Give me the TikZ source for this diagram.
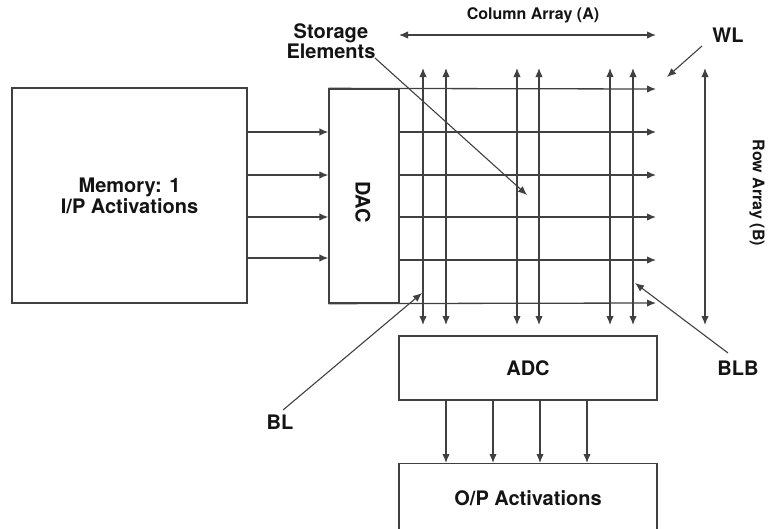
\documentclass[tikz,border=0pt]{standalone}
\usepackage{fontspec}
\setmainfont{TeX Gyre Heros}
\usetikzlibrary{arrows.meta}
\begin{document}
\begin{tikzpicture}[x=1pt,y=-1pt,line width=1.3pt,color=black!75,
  arr/.style={-{Latex[length=9pt,width=7.5pt]}},
  darr/.style={{Latex[length=9pt,width=7.5pt]}-{Latex[length=9pt,width=7.5pt]}},
  big/.style={font=\fontsize{20}{22}\selectfont\bfseries,text=black!92,inner sep=0pt},
  small/.style={font=\fontsize{16}{18}\selectfont\bfseries,text=black!92,inner sep=0pt},
  box/.style={draw,inner sep=0pt}]
\useasboundingbox (0,0) rectangle (768,528);
\clip (0,0) rectangle (768,528);
% boxes
\node[box,minimum width=235,minimum height=215,big,align=center] (mem) at (129.5,195.5) {Memory: 1\\[-1pt]I/P Activations};
\node[box,minimum width=70,minimum height=214] (dac) at (364,196) {};
\node[big,rotate=-90] (daclbl) at (363,202) {DAC};
\node[box,minimum width=258,minimum height=64,big] (adc) at (528,368) {ADC};
\node[box,minimum width=258,minimum height=140,anchor=north] (op) at (528,463) {};
\node[big] (oplbl) at (528,498) {O/P Activations};
% row (word line) coordinates
\coordinate (r1) at (0,89);
\coordinate (r2) at (0,132);
\coordinate (r3) at (0,175);
\coordinate (r4) at (0,217);
\coordinate (r5) at (0,260);
\coordinate (r6) at (0,303);
\coordinate (wlend) at (656,0);
% word lines
\draw[arr] (dac.north west) -- (wlend |- r1);
\foreach \r in {r2,r3,r4,r5}{
  \draw[arr] (dac.east |- \r) -- (wlend |- \r);
}
\draw[arr] (dac.south west) -- (wlend |- r6);
% memory -> DAC
\coordinate (m1) at (0,132);
\coordinate (m2) at (0,175);
\coordinate (m3) at (0,217);
\coordinate (m4) at (0,258);
\foreach \m in {m1,m2,m3,m4}{
  \draw[arr] (mem.east |- \m) -- (dac.west |- \m);
}
% bit lines
\coordinate (btop) at (0,68);
\coordinate (bbot) at (0,325);
\foreach \x [count=\i] in {423,446,517,539,610,633}{
  \coordinate (bl\i) at (\x,0);
  \draw[darr] (bl\i |- btop) -- (bl\i |- bbot);
}
% ADC -> O/P
\foreach \x [count=\i] in {446,493,540,587}{
  \coordinate (ao\i) at (\x,0);
  \draw[arr] (ao\i |- adc.south) -- (ao\i |- op.north);
}
% column array / row array
\coordinate (ca1) at (399,35);
\coordinate (ca2) at (656,35);
\draw[darr] (ca1) -- (ca2);
\node[small] (calbl) at (533,15) {Column Array (A)};
\coordinate (ra) at (705,0);
\draw[darr] (ra |- btop) -- (ra |- bbot);
\node[small,rotate=-90] (ralbl) at (757,193) {Row Array (B)};
% labels with pointers
\node[big] (wl) at (728,35) {WL};
\coordinate (wlt) at (667,77);
\draw[arr,line width=1.1pt] (702,46) -- (wlt);
\node[big,align=center] (se) at (331,41) {Storage\\[-2pt]Elements};
\coordinate (set) at (527,195);
\draw[arr,line width=1.1pt] (375,58) -- (set);
\node[big] (bl) at (280,422) {BL};
\coordinate (blt) at (422,293);
\draw[arr,line width=1.1pt] (283,410) -- (blt);
\node[big] (blb) at (738,368) {BLB};
\coordinate (blbt) at (635,283);
\draw[arr,line width=1.1pt] (728,353) -- (blbt);
\end{tikzpicture}
\end{document}
